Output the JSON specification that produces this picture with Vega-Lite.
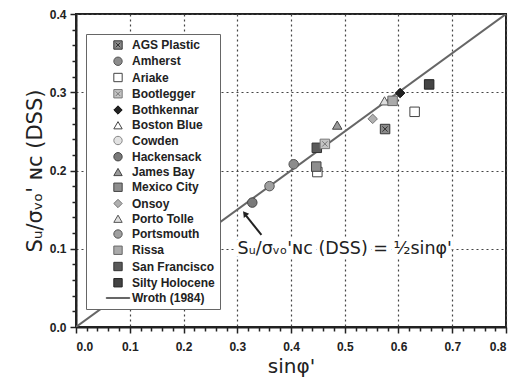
{
  "$schema": "https://vega.github.io/schema/vega-lite/v6.json",
  "width": 430,
  "height": 313,
  "autosize": {"type": "none"},
  "padding": {"left": 76, "top": 14, "right": 11, "bottom": 58},
  "background": "white",
  "config": {
    "view": {"stroke": "#222", "strokeWidth": 2},
    "axis": {
      "labelFont": "Liberation Sans", "labelFontWeight": "bold", "labelFontSize": 12, "labelColor": "#222",
      "titleFont": "DejaVu Sans", "titleFontWeight": "normal", "titleColor": "#222",
      "domainColor": "#222", "domainWidth": 2, "tickColor": "#222", "tickWidth": 1.5,
      "gridColor": "#444", "gridDash": [2, 3], "gridWidth": 1.2
    }
  },
  "layer": [
    {
      "data": {"values": [{"x": 0, "y": 0}, {"x": 0.8, "y": 0.4}]},
      "mark": {"type": "line", "color": "#666", "strokeWidth": 2, "clip": true},
      "encoding": {
        "x": {"field": "x", "type": "quantitative", "scale": {"domain": [0, 0.8], "nice": false},
          "axis": {"orient": "bottom", "values": [0.02,0.04,0.06,0.08,0.12,0.14,0.16,0.18,0.22,0.24,0.26,0.28,0.32,0.34,0.36,0.38,0.42,0.44,0.46,0.48,0.52,0.54,0.56,0.58,0.62,0.64,0.66,0.68,0.72,0.74,0.76,0.78], "labels": false, "domain": false, "grid": false, "tickSize": 4, "title": null}},
        "y": {"field": "y", "type": "quantitative", "scale": {"domain": [0, 0.4], "nice": false},
          "axis": {"orient": "left", "values": [0.02,0.04,0.06,0.08,0.12,0.14,0.16,0.18,0.22,0.24,0.26,0.28,0.32,0.34,0.36,0.38], "labels": false, "domain": false, "grid": false, "tickSize": 4, "title": null}}
      }
    },
    {
      "data": {"values": [{"x": 0.345, "y": 0.1176, "x2": 0.316, "y2": 0.1425}]},
      "mark": {"type": "rule", "color": "#222", "strokeWidth": 2},
      "encoding": {
        "x": {"field": "x", "type": "quantitative", "axis": null},
        "y": {"field": "y", "type": "quantitative", "axis": null},
        "x2": {"field": "x2"},
        "y2": {"field": "y2"}
      }
    },
    {
      "data": {"values": [{"x": 0.314, "y": 0.145}]},
      "mark": {"type": "point", "shape": "triangle-up", "filled": true, "color": "#222", "size": 45, "angle": 323, "opacity": 1},
      "encoding": {
        "x": {"field": "x", "type": "quantitative", "axis": null},
        "y": {"field": "y", "type": "quantitative", "axis": null}
      }
    },
    {
      "data": {"values": [{"x": 0.5, "y": 0.1, "t": "Sᵤ/σᵥₒ'ɴᴄ (DSS)  = ½sinφ'"}]},
      "layer": [
        {"mark": {"type": "text", "font": "DejaVu Sans", "fontSize": 17.5, "color": "white", "stroke": "white", "strokeWidth": 7, "align": "center", "baseline": "middle"}},
        {"mark": {"type": "text", "font": "DejaVu Sans", "fontSize": 17.5, "color": "#222", "align": "center", "baseline": "middle"}}
      ],
      "encoding": {
        "x": {"field": "x", "type": "quantitative", "axis": null},
        "y": {"field": "y", "type": "quantitative", "axis": null},
        "text": {"field": "t"}
      }
    },
    {
      "data": {"values": [
        {"s": "Hackensack", "x": 0.328, "y": 0.159},
        {"s": "Portsmouth", "x": 0.360, "y": 0.180},
        {"s": "Amherst", "x": 0.405, "y": 0.208},
        {"s": "Ariake", "x": 0.449, "y": 0.198},
        {"s": "Mexico City", "x": 0.447, "y": 0.205},
        {"s": "San Francisco", "x": 0.448, "y": 0.229},
        {"s": "Bootlegger", "x": 0.463, "y": 0.234},
        {"s": "James Bay", "x": 0.486, "y": 0.258},
        {"s": "Onsoy", "x": 0.552, "y": 0.266},
        {"s": "AGS Plastic", "x": 0.575, "y": 0.253},
        {"s": "Porto Tolle", "x": 0.574, "y": 0.289},
        {"s": "Rissa", "x": 0.589, "y": 0.289},
        {"s": "Bothkennar", "x": 0.603, "y": 0.299},
        {"s": "Ariake", "x": 0.630, "y": 0.275},
        {"s": "Silty Holocene", "x": 0.657, "y": 0.310}
      ]},
      "mark": {"type": "point", "filled": true, "opacity": 1, "size": 90, "strokeWidth": 1},
      "encoding": {
        "x": {"field": "x", "type": "quantitative",
          "axis": {"orient": "bottom", "values": [0,0.1,0.2,0.3,0.4,0.5,0.6,0.7,0.8], "format": ".1f", "tickSize": 6, "labelPadding": 8, "grid": true, "domain": true, "title": "sinφ'", "titleFontSize": 20, "titlePadding": 4}},
        "y": {"field": "y", "type": "quantitative",
          "axis": {"orient": "left", "values": [0,0.1,0.2,0.3,0.4], "format": ".1f", "tickSize": 6, "labelPadding": 4, "grid": true, "domain": true, "title": "Sᵤ/σᵥₒ' ɴᴄ (DSS)", "titleFontSize": 21, "titlePadding": 4}},
        "shape": {"field": "s", "type": "nominal",
          "scale": {
            "domain": ["AGS Plastic","Amherst","Ariake","Bootlegger","Bothkennar","Boston Blue","Cowden","Hackensack","James Bay","Mexico City","Onsoy","Porto Tolle","Portsmouth","Rissa","San Francisco","Silty Holocene","Wroth (1984)"],
            "range": ["M-1,-1H1V1H-1Z M-0.55,-0.55L0.55,0.55 M-0.55,0.55L0.55,-0.55","circle","square","M-1,-1H1V1H-1Z M-0.55,-0.55L0.55,0.55 M-0.55,0.55L0.55,-0.55","diamond","triangle-up","circle","circle","triangle-up","square","diamond","triangle-up","circle","square","square","square","M-2.8,-0.12H2.8V0.12H-2.8Z"]
          },
          "legend": {
            "title": null, "orient": "none", "legendX": 10, "legendY": 20,
            "labelFont": "Liberation Sans", "labelFontWeight": "bold", "labelFontSize": 12, "labelColor": "#222",
            "labelExpr": "datum.label + '  '",
            "padding": 5, "symbolOffset": 21, "labelOffset": 8, "rowPadding": 2.25,
            "strokeColor": "#666", "fillColor": "white",
            "symbolSize": 70, "symbolStrokeWidth": 1, "labelLimit": 200,
            "encode": {
              "legend": {"update": {"strokeWidth": {"value": 2}}}
            }
          }},
        "fill": {"field": "s", "type": "nominal",
          "scale": {
            "domain": ["AGS Plastic","Amherst","Ariake","Bootlegger","Bothkennar","Boston Blue","Cowden","Hackensack","James Bay","Mexico City","Onsoy","Porto Tolle","Portsmouth","Rissa","San Francisco","Silty Holocene","Wroth (1984)"],
            "range": ["#8a8a8a","#8c8c8c","#ffffff","#c4c4c4","#222222","#ffffff","#e2e2e2","#7a7a7a","#9a9a9a","#8e8e8e","#b0b0b0","#dedede","#a0a0a0","#aaaaaa","#5a5a5a","#444444","#666666"]
          }},
        "stroke": {"field": "s", "type": "nominal",
          "scale": {
            "domain": ["AGS Plastic","Amherst","Ariake","Bootlegger","Bothkennar","Boston Blue","Cowden","Hackensack","James Bay","Mexico City","Onsoy","Porto Tolle","Portsmouth","Rissa","San Francisco","Silty Holocene","Wroth (1984)"],
            "range": ["#333333","#555555","#444444","#777777","#111111","#444444","#888888","#444444","#444444","#444444","#777777","#555555","#555555","#666666","#333333","#222222","#666666"]
          }}
      }
    }
  ],
  "resolve": {"axis": {"x": "independent", "y": "independent"}}
}
